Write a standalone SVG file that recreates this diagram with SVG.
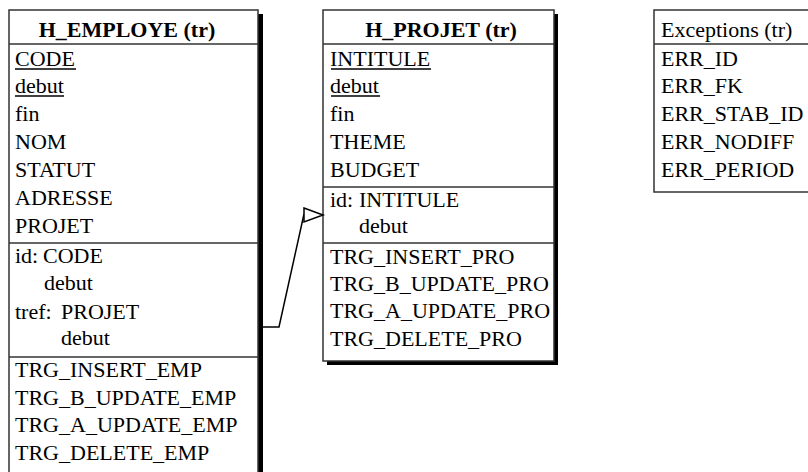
<svg xmlns="http://www.w3.org/2000/svg" width="808" height="472" viewBox="0 0 808 472">
<style>
text{font-family:"Liberation Serif","Times New Roman",serif;font-size:22px;fill:#000}
.h{font-weight:bold;text-anchor:middle}
.box{fill:#fff;stroke:#333;stroke-width:1.5}
.sep{stroke:#333;stroke-width:1.5}
.sh{fill:#000}
.ul{stroke:#000;stroke-width:1.3}
.cn{fill:none;stroke:#000;stroke-width:1.5}
</style>
<rect width="808" height="472" fill="#fff"/>
<g id="H_EMPLOYE">
<rect class="sh" x="258" y="14" width="5" height="470"/>
<rect class="box" x="9" y="10" width="249" height="480"/>
<line class="sep" x1="9" y1="44" x2="258" y2="44"/>
<line class="sep" x1="9" y1="243" x2="258" y2="243"/>
<line class="sep" x1="9" y1="357" x2="258" y2="357"/>
<text class="h" x="127" y="37">H_EMPLOYE (tr)</text>
<text x="15" y="66">CODE</text>
<line class="ul" x1="15" y1="69" x2="76" y2="69"/>
<text x="15" y="93">debut</text>
<line class="ul" x1="15" y1="96" x2="64" y2="96"/>
<text x="15" y="121">fin</text>
<text x="15" y="149">NOM</text>
<text x="15" y="177">STATUT</text>
<text x="15" y="205">ADRESSE</text>
<text x="15" y="233">PROJET</text>
<text x="15" y="263">id:</text>
<text x="43" y="263">CODE</text>
<text x="44" y="290">debut</text>
<text x="15" y="319">tref:</text>
<text x="61" y="319">PROJET</text>
<text x="61" y="345">debut</text>
<text x="15" y="377">TRG_INSERT_EMP</text>
<text x="15" y="405">TRG_B_UPDATE_EMP</text>
<text x="15" y="432">TRG_A_UPDATE_EMP</text>
<text x="15" y="460">TRG_DELETE_EMP</text>
</g>
<g id="H_PROJET">
<rect class="sh" x="327" y="14" width="231" height="351"/>
<rect class="box" x="323" y="10" width="231" height="351"/>
<line class="sep" x1="323" y1="44" x2="554" y2="44"/>
<line class="sep" x1="323" y1="187" x2="554" y2="187"/>
<line class="sep" x1="323" y1="243" x2="554" y2="243"/>
<text class="h" x="441" y="37">H_PROJET (tr)</text>
<text x="330" y="66">INTITULE</text>
<line class="ul" x1="331" y1="69" x2="431" y2="69"/>
<text x="330" y="93">debut</text>
<line class="ul" x1="331" y1="96" x2="380" y2="96"/>
<text x="330" y="121">fin</text>
<text x="330" y="149">THEME</text>
<text x="330" y="177">BUDGET</text>
<text x="330" y="207">id:</text>
<text x="359" y="207">INTITULE</text>
<text x="359" y="233">debut</text>
<text x="330" y="264">TRG_INSERT_PRO</text>
<text x="330" y="291">TRG_B_UPDATE_PRO</text>
<text x="330" y="318">TRG_A_UPDATE_PRO</text>
<text x="330" y="346">TRG_DELETE_PRO</text>
</g>
<g id="Exceptions">
<rect class="box" x="654" y="10" width="170" height="182"/>
<line class="sep" x1="654" y1="44" x2="824" y2="44"/>
<text x="661" y="37">Exceptions (tr)</text>
<text x="661" y="66">ERR_ID</text>
<text x="661" y="93">ERR_FK</text>
<text x="661" y="121">ERR_STAB_ID</text>
<text x="661" y="149">ERR_NODIFF</text>
<text x="661" y="177">ERR_PERIOD</text>
</g>
<g id="connectors">
<polyline class="cn" points="263,327 279,327 304,214"/>
<polygon class="cn" style="fill:#fff" points="304,208 323,215 304,222"/>
</g>
</svg>
